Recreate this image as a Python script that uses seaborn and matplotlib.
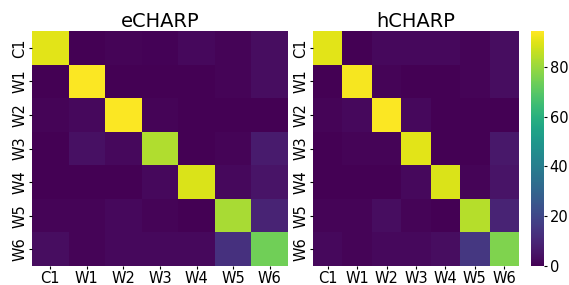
import numpy as np
import pandas as pd
import seaborn as sns
import matplotlib.pyplot as plt

etichette = ['C1', 'W1', 'W2', 'W3', 'W4', 'W5', 'W6']

# matrici di confusione (percentuali)
echarp = [
    [90, 0, 1, 0.5, 2, 1, 3],
    [0, 94, 0, 0, 0, 1, 3],
    [1, 2, 94, 1, 0, 0, 0],
    [0, 4, 2, 83, 0, 1, 7],
    [0, 0, 0, 2, 89, 2, 5],
    [1, 1, 2, 1, 0, 82, 9],
    [3, 1, 2, 2, 2, 13, 74],
]
hcharp = [
    [90, 0, 2, 2, 2, 1, 3],
    [0, 93, 1, 0, 0, 1, 3],
    [1, 2, 94, 2, 0, 0, 0],
    [0, 1, 1, 90, 0, 0, 6],
    [0, 0, 0, 2, 89, 1, 5],
    [1, 1, 3, 1, 0, 84, 9],
    [2, 1, 2, 2, 3, 15, 76],
]

df_e = pd.DataFrame(echarp, index=etichette, columns=etichette)
df_h = pd.DataFrame(hcharp, index=etichette, columns=etichette)

fig = plt.figure(figsize=(5.69, 2.85), dpi=100)
ax1 = fig.add_axes([32/569, 19/285, 256/569, 235/285])
ax2 = fig.add_axes([313/569, 19/285, 206/569, 235/285])
cax = fig.add_axes([531/569, 19/285, 13/569, 235/285])

vmin, vmax = 0, 94.4
sns.heatmap(df_e, ax=ax1, cmap='viridis', vmin=vmin, vmax=vmax, cbar=False)
sns.heatmap(df_h, ax=ax2, cmap='viridis', vmin=vmin, vmax=vmax, cbar_ax=cax)

for ax, titolo in [(ax1, 'eCHARP'), (ax2, 'hCHARP')]:
    ax.set_title(titolo, fontsize=14, pad=3)
    ax.tick_params(axis='both', labelsize=10.5, length=2.5, pad=1)
    ax.set_xticklabels(etichette, rotation=0)
    ax.set_yticklabels(etichette, rotation=90, va='center')

cax.tick_params(labelsize=10.5, length=2.5, pad=1.5)
cax.set_yticks([0, 20, 40, 60, 80])

plt.savefig('out.png', dpi=100)
plt.close()
